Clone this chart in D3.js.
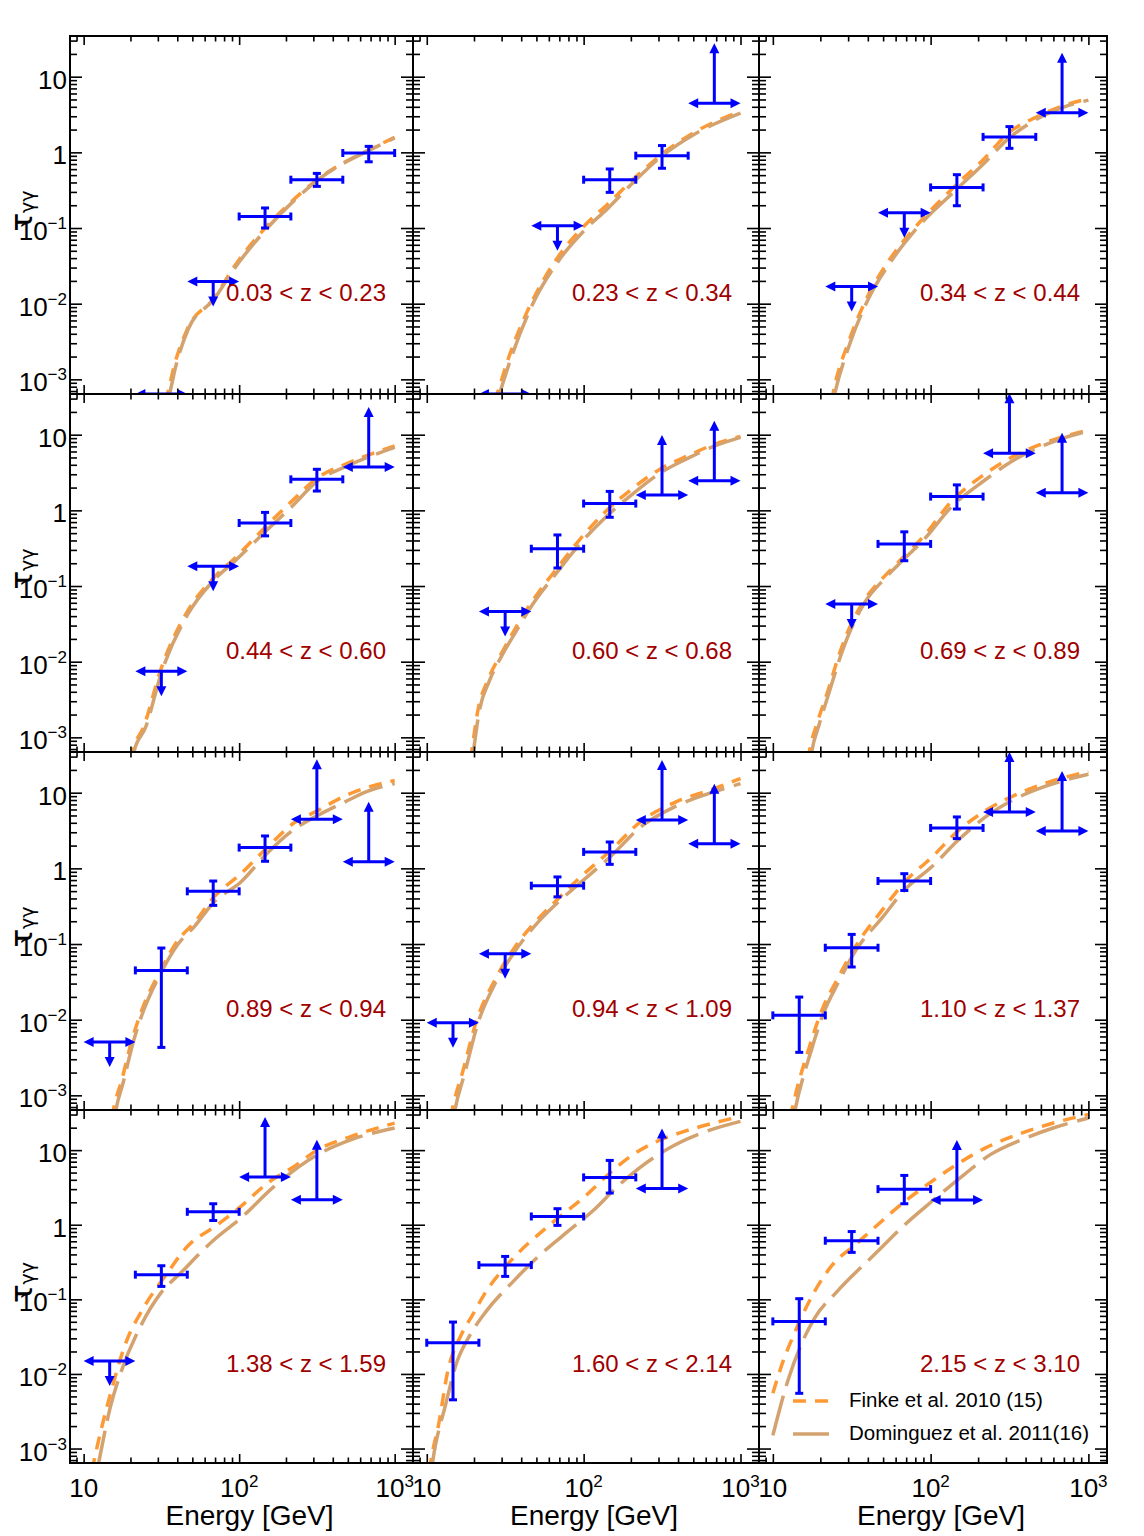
<!DOCTYPE html>
<html>
<head>
<meta charset="utf-8">
<script src="https://cdn.jsdelivr.net/npm/d3@7"></script>
<style>
  body { margin: 0; background: #fff; }
  svg { display: block; font-family: "Liberation Sans", Arial, Helvetica, sans-serif; }
</style>
</head>
<body>
<svg id="chart" width="1144" height="1536"></svg>
<script>
// Redshift bins, one panel each (row by row)
const zLabels = [
  "0.03 < z < 0.23", "0.23 < z < 0.34", "0.34 < z < 0.44",
  "0.44 < z < 0.60", "0.60 < z < 0.68", "0.69 < z < 0.89",
  "0.89 < z < 0.94", "0.94 < z < 1.09", "1.10 < z < 1.37",
  "1.38 < z < 1.59", "1.60 < z < 2.14", "2.15 < z < 3.10"
];

// Energy bins (GeV) and their centers
const binEdges = [10, 21.5, 46.4, 100, 215, 464, 1000];
const binCenters = [14.7, 31.6, 68.1, 146.7, 316, 681];

// Measured optical depth per panel: [bin, type, tau, tauLo, tauHi]
// type: "m" measurement, "ul" upper limit, "ll" lower limit
const tauPoints = [
  [[1, "ul", 6.4e-4], [2, "ul", 0.0197], [3, "m", 0.142, 0.1, 0.184], [4, "m", 0.435, 0.355, 0.527], [5, "m", 0.98, 0.75, 1.2]],
  [[1, "ul", 6.4e-4], [2, "ul", 0.107], [3, "m", 0.435, 0.296, 0.603], [4, "m", 0.904, 0.616, 1.23], [5, "ll", 4.45]],
  [[1, "ul", 0.0169], [2, "ul", 0.159], [3, "m", 0.344, 0.197, 0.507], [4, "m", 1.6, 1.13, 2.19], [5, "ll", 3.35]],
  [[1, "ul", 7.5e-3], [2, "ul", 0.182], [3, "m", 0.68, 0.46, 0.94], [4, "m", 2.57, 1.8, 3.49], [5, "ll", 3.74]],
  [[1, "ul", 0.046], [2, "m", 0.311, 0.173, 0.473], [3, "m", 1.23, 0.81, 1.78], [4, "ll", 1.6], [5, "ll", 2.47]],
  [[1, "ul", 0.058], [2, "m", 0.36, 0.216, 0.52], [3, "m", 1.52, 1.04, 2.17], [4, "ll", 5.68], [5, "ll", 1.71]],
  [[0, "ul", 5.06e-3], [1, "m", 0.0448, 4.3e-3, 0.0885], [2, "m", 0.497, 0.324, 0.68], [3, "m", 1.88, 1.24, 2.68], [4, "ll", 4.45], [5, "ll", 1.22]],
  [[0, "ul", 9.1e-3], [1, "ul", 0.0744], [2, "m", 0.59, 0.42, 0.77], [3, "m", 1.65, 1.13, 2.23], [4, "ll", 4.37], [5, "ll", 2.12]],
  [[0, "m", 0.0114, 3.7e-3, 0.0199], [1, "m", 0.0893, 0.0497, 0.134], [2, "m", 0.68, 0.51, 0.85], [3, "m", 3.42, 2.47, 4.78], [4, "ll", 5.57], [5, "ll", 3.12]],
  [[0, "ul", 0.0149], [1, "m", 0.214, 0.149, 0.282], [2, "m", 1.49, 1.14, 1.91], [3, "ll", 4.36], [4, "ll", 2.16]],
  [[0, "m", 0.0262, 4.5e-3, 0.0496], [1, "m", 0.288, 0.203, 0.376], [2, "m", 1.29, 0.98, 1.64], [3, "m", 4.31, 2.66, 7.28], [4, "ll", 3.07]],
  [[0, "m", 0.0506, 5.5e-3, 0.102], [1, "m", 0.61, 0.426, 0.81], [2, "m", 3.0, 1.91, 4.58], [3, "ll", 2.14]]
];

// Finke et al. 2010 model, [E, tau]
const finkeCurves = [
  [[33, 5e-4], [34.5, 6.3e-4], [38, 1.45e-3], [46.4, 4.6e-3], [69, 0.0118], [93, 0.031], [147, 0.1], [250, 0.29], [320, 0.44], [410, 0.62], [684, 1.08], [1000, 1.58]],
  [[27, 5e-4], [28, 6.3e-4], [34, 2.2e-3], [47.7, 0.0115], [67.3, 0.039], [104.5, 0.115], [140, 0.2], [207, 0.44], [321, 0.97], [499, 1.8], [1000, 3.5]],
  [[23.5, 5e-4], [24, 6.3e-4], [30.5, 3.3e-3], [39.9, 0.0125], [54.8, 0.038], [80.8, 0.105], [145, 0.37], [213, 0.78], [315, 1.84], [464, 2.9], [684, 4.1], [1000, 5.1]],
  [[20, 5e-4], [20.5, 6.3e-4], [24.4, 1.4e-3], [31.3, 7.8e-3], [46.4, 0.046], [69, 0.13], [93, 0.23], [147, 0.6], [216, 1.3], [320, 2.7], [500, 4.2], [1000, 7.1]],
  [[19, 5e-4], [19.3, 6.3e-4], [21.2, 2.3e-3], [24.6, 5.8e-3], [30, 0.013], [36.5, 0.027], [46.6, 0.061], [68.9, 0.18], [92.4, 0.39], [137, 0.95], [202, 1.9], [314, 3.6], [464, 5.3], [686, 7.5], [1000, 9.5]],
  [[16.7, 5e-4], [17, 6.3e-4], [19.2, 1.6e-3], [22.4, 4.2e-3], [26.5, 0.013], [31.5, 0.032], [38.2, 0.066], [51.1, 0.135], [62.2, 0.205], [91.6, 0.47], [135, 1.3], [220, 3.0], [324, 5.0], [479, 7.2], [705, 9.5], [1000, 11.5]],
  [[15.2, 5e-4], [15.5, 6.3e-4], [17.6, 1.6e-3], [20.4, 5.3e-3], [23.2, 0.012], [31.3, 0.045], [40.1, 0.11], [51.3, 0.19], [69, 0.42], [102.6, 0.85], [152, 1.9], [226, 4.0], [320, 5.8], [475, 9.0], [673, 11.8], [1000, 14.5]],
  [[14.2, 5e-4], [14.5, 6.3e-4], [17, 2.1e-3], [20.8, 9.8e-3], [27.3, 0.034], [35.6, 0.085], [52.9, 0.23], [69, 0.4], [89.7, 0.68], [152, 1.8], [226, 4.0], [385, 7.5], [652, 11], [1000, 15.4]],
  [[12.9, 5e-4], [13.2, 6.3e-4], [17, 4.3e-3], [20.8, 0.0145], [25.4, 0.033], [33.3, 0.092], [49.3, 0.28], [68.5, 0.66], [101.6, 1.4], [151, 3.2], [223, 5.8], [332, 9.0], [525, 13.2], [1000, 19]],
  [[11.3, 5e-4], [11.6, 6.5e-4], [14.9, 5.5e-3], [19, 0.0287], [23.2, 0.0655], [34.5, 0.225], [46.4, 0.51], [72.6, 1.0], [102.6, 1.76], [152, 3.6], [226, 6.05], [320, 10.1], [526, 15.3], [1000, 23]],
  [[10.4, 5e-4], [10.6, 6.6e-4], [11.9, 2.1e-3], [13.6, 0.0108], [16.6, 0.0335], [19.6, 0.062], [23.9, 0.128], [31.2, 0.262], [64.6, 1.11], [102, 2.4], [143, 4.68], [198, 8.2], [294, 13.1], [438, 17.8], [743, 24.3], [1000, 28.3]],
  [[10, 5.5e-3], [11.6, 0.0147], [13.3, 0.0303], [15.1, 0.0561], [18.4, 0.128], [23.9, 0.291], [33.3, 0.54], [46.2, 1.0], [68.5, 2.05], [101.6, 3.8], [151, 6.7], [223, 10.7], [354, 16.1], [598, 23.1], [1000, 30]]
];

// Dominguez et al. 2011 model, [E, tau]
const dominguezCurves = [
  [[34, 5e-4], [35.5, 6.3e-4], [39, 1.45e-3], [47, 4.6e-3], [69, 0.0115], [93, 0.029], [147, 0.093], [250, 0.28], [320, 0.43], [410, 0.61], [684, 1.06], [1000, 1.55]],
  [[28, 5e-4], [29, 6.3e-4], [35, 2.1e-3], [48, 0.0105], [68, 0.035], [104.5, 0.1], [140, 0.175], [207, 0.4], [321, 0.92], [499, 1.7], [1000, 3.3]],
  [[24, 5e-4], [24.6, 6.3e-4], [31, 3.1e-3], [40.5, 0.0118], [55.5, 0.035], [81, 0.097], [145, 0.32], [213, 0.68], [315, 1.55], [464, 2.7], [684, 3.9], [1000, 4.9]],
  [[20.5, 5e-4], [21, 6.3e-4], [25, 1.35e-3], [31.8, 7.4e-3], [47, 0.043], [69, 0.12], [93, 0.21], [147, 0.52], [216, 1.1], [320, 2.45], [500, 3.9], [1000, 6.8]],
  [[19.5, 5e-4], [19.8, 6.3e-4], [21.6, 2.2e-3], [25, 5.5e-3], [30.3, 0.0123], [37, 0.025], [47, 0.056], [69, 0.16], [92.4, 0.34], [137, 0.8], [202, 1.6], [314, 3.2], [464, 4.9], [686, 7.1], [1000, 9.2]],
  [[17.3, 5e-4], [17.6, 6.3e-4], [19.7, 1.5e-3], [22.8, 4e-3], [27, 0.0122], [32, 0.03], [38.5, 0.062], [51.5, 0.127], [62.2, 0.19], [91.6, 0.42], [135, 1.1], [220, 2.5], [324, 4.4], [479, 6.7], [705, 9.1], [1000, 11.2]],
  [[15.8, 5e-4], [16.1, 6.3e-4], [18, 1.5e-3], [20.8, 5e-3], [23.5, 0.011], [31.5, 0.042], [40.5, 0.1], [51.5, 0.17], [69, 0.36], [102.6, 0.66], [152, 1.6], [226, 3.3], [320, 5.0], [475, 7.5], [673, 10.5], [1000, 13.2]],
  [[14.8, 5e-4], [15.1, 6.3e-4], [17.5, 2e-3], [21.2, 9e-3], [27.5, 0.031], [36, 0.077], [53, 0.21], [69, 0.36], [89.7, 0.58], [152, 1.5], [226, 3.4], [385, 6.6], [652, 10], [1000, 13.2]],
  [[13.5, 5e-4], [13.8, 6.3e-4], [17.5, 3.9e-3], [21.2, 0.013], [25.8, 0.03], [33.5, 0.082], [49.5, 0.225], [68.5, 0.52], [101.6, 1.05], [151, 2.4], [223, 4.8], [332, 8.0], [525, 12], [1000, 17.5]],
  [[12.2, 5e-4], [12.5, 6.5e-4], [14.9, 3.7e-3], [17.3, 0.0103], [23.2, 0.0434], [31.3, 0.121], [42, 0.225], [69, 0.63], [102.6, 1.23], [168, 3.26], [320, 8.7], [526, 13.8], [1000, 19.8]],
  [[10.7, 5e-4], [10.9, 6.6e-4], [13.2, 3.9e-3], [15.6, 0.0147], [18.4, 0.0303], [23.9, 0.069], [35.6, 0.174], [52.8, 0.396], [78.7, 0.8], [117, 1.6], [163, 3.2], [226, 5.75], [384, 11.8], [652, 18.8], [1000, 24.3]],
  [[10, 1.5e-3], [12.4, 7.9e-3], [15.1, 0.0246], [18.4, 0.0561], [25.6, 0.128], [46.2, 0.44], [68.5, 1.0], [101.6, 2.05], [161, 4.6], [239, 8.7], [378, 13.8], [598, 19.8], [1000, 26.9]]
];

// Axis ticks and labels
const xTickValues = [10, 100, 1000];
const xTickLabels = [["10", ""], ["10", "2"], ["10", "3"]];
const yTickValues = [1e-3, 1e-2, 1e-1, 1, 10];
const yTickLabels = [["10", "\u22123"], ["10", "\u22122"], ["10", "\u22121"], ["1", ""], ["10", ""]];
const legendNames = ["Finke et al. 2010 (15)", "Dominguez et al. 2011(16)"];

// Mise en page
const colX = [70, 413, 759, 1107];
const rowY = [36, 394, 752, 1110, 1463];
const xDomain = [8.17, 1312];
const yDomain = [6.4e-4, 34.5];

const blue = "#0000ff";
const finkeColor = "#ff9933";
const domColor = "#d3a26e";
const labelColor = "#a00000";

const svg = d3.select("#chart");
const defs = svg.append("defs");

const xMinor = [];
[1, 10, 100].forEach(function(dec) {
  for (let m = 1; m <= 9; m++) {
    const v = m * dec;
    if (v > xDomain[0] && v < xDomain[1] && !xTickValues.includes(v)) xMinor.push(v);
  }
});
const yMinor = [];
[1e-4, 1e-3, 1e-2, 1e-1, 1, 10].forEach(function(dec) {
  for (let m = 2; m <= 9; m++) {
    const v = m * dec;
    if (v > yDomain[0] && v < yDomain[1]) yMinor.push(v);
  }
});

// Triangle de fleche: pointe (tx, ty), direction (dx, dy)
function arrowHead(g, tx, ty, dx, dy) {
  const len = 10, half = 5;
  const bx = tx - dx * len, by = ty - dy * len;
  const px = -dy, py = dx;
  g.append("path")
    .attr("d", "M" + tx + "," + ty +
      "L" + (bx + px * half) + "," + (by + py * half) +
      "L" + (bx - px * half) + "," + (by - py * half) + "Z")
    .attr("fill", blue);
}

function seg(g, x1, y1, x2, y2) {
  g.append("line")
    .attr("x1", x1).attr("y1", y1).attr("x2", x2).attr("y2", y2)
    .attr("stroke", blue).attr("stroke-width", 3);
}

function drawPoint(g, p, x, y) {
  const bi = p[0], type = p[1];
  const xl = x(binEdges[bi]), xr = x(binEdges[bi + 1]), xc = x(binCenters[bi]);
  const yc = y(p[2]);
  if (type === "m") {
    seg(g, xl, yc, xr, yc);
    seg(g, xl, yc - 4, xl, yc + 4);
    seg(g, xr, yc - 4, xr, yc + 4);
    const ylo = y(p[3]), yhi = y(p[4]);
    seg(g, xc, ylo, xc, yhi);
    seg(g, xc - 4, ylo, xc + 4, ylo);
    seg(g, xc - 4, yhi, xc + 4, yhi);
  } else {
    seg(g, xl + 6, yc, xr - 6, yc);
    arrowHead(g, xl, yc, -1, 0);
    arrowHead(g, xr, yc, 1, 0);
    if (type === "ul") {
      seg(g, xc, yc, xc, yc + 18);
      arrowHead(g, xc, yc + 25, 0, 1);
    } else {
      seg(g, xc, yc, xc, yc - 53);
      arrowHead(g, xc, yc - 60, 0, -1);
    }
  }
}

zLabels.forEach(function(label, i) {
  const r = Math.floor(i / 3), c = i % 3;
  const x0 = colX[c], x1 = colX[c + 1], y0 = rowY[r], y1 = rowY[r + 1];
  const x = d3.scaleLog().domain(xDomain).range([x0, x1]);
  const y = d3.scaleLog().domain(yDomain).range([y1, y0]);

  const clipId = "clip-" + i;
  defs.append("clipPath").attr("id", clipId)
    .append("rect").attr("x", x0).attr("y", y0).attr("width", x1 - x0).attr("height", y1 - y0);

  const panel = svg.append("g").attr("class", "panel");
  const plot = panel.append("g").attr("clip-path", "url(#" + clipId + ")");

  const line = d3.line()
    .x(function(d) { return x(d[0]); })
    .y(function(d) { return y(d[1]); })
    .curve(d3.curveMonotoneX);

  plot.append("path").datum(finkeCurves[i])
    .attr("d", line).attr("fill", "none")
    .attr("stroke", finkeColor).attr("stroke-width", 3.5)
    .attr("stroke-dasharray", "13,9");
  plot.append("path").datum(dominguezCurves[i])
    .attr("d", line).attr("fill", "none")
    .attr("stroke", domColor).attr("stroke-width", 3.5)
    .attr("stroke-dasharray", "41,10");

  const pts = plot.append("g");
  tauPoints[i].forEach(function(p) { drawPoint(pts, p, x, y); });

  // Ticks on all four sides, pointing inward
  const axes = panel.append("g").attr("class", "ticks");
  function addAxis(axis, tx, ty) {
    const g = axes.append("g").attr("transform", "translate(" + tx + "," + ty + ")").call(axis);
    g.select(".domain").remove();
    g.selectAll("line").attr("stroke", "#000").attr("stroke-width", 1.6);
  }
  addAxis(d3.axisBottom(x).tickValues(xTickValues).tickSize(-9).tickFormat(""), 0, y1);
  addAxis(d3.axisBottom(x).tickValues(xMinor).tickSize(-5.5).tickFormat(""), 0, y1);
  addAxis(d3.axisTop(x).tickValues(xTickValues).tickSize(-9).tickFormat(""), 0, y0);
  addAxis(d3.axisTop(x).tickValues(xMinor).tickSize(-5.5).tickFormat(""), 0, y0);
  addAxis(d3.axisLeft(y).tickValues(yTickValues).tickSize(-12).tickFormat(""), x0, 0);
  addAxis(d3.axisLeft(y).tickValues(yMinor).tickSize(-7).tickFormat(""), x0, 0);
  addAxis(d3.axisRight(y).tickValues(yTickValues).tickSize(-12).tickFormat(""), x1, 0);
  addAxis(d3.axisRight(y).tickValues(yMinor).tickSize(-7).tickFormat(""), x1, 0);

  panel.append("rect")
    .attr("x", x0).attr("y", y0).attr("width", x1 - x0).attr("height", y1 - y0)
    .attr("fill", "none").attr("stroke", "#000").attr("stroke-width", 2);

  // Redshift label
  panel.append("text")
    .attr("x", x1 - 27).attr("y", y(0.0107))
    .attr("text-anchor", "end")
    .attr("font-size", 24).attr("fill", labelColor)
    .text(label);

  if (c === 0) {
    yTickValues.forEach(function(v, k) {
      const t = panel.append("text")
        .attr("x", x0 - 3).attr("y", y(v) + 12)
        .attr("text-anchor", "end").attr("font-size", 26);
      t.append("tspan").text(yTickLabels[k][0]);
      if (yTickLabels[k][1]) {
        t.append("tspan").attr("dy", -11).attr("font-size", 17).text(yTickLabels[k][1]);
      }
    });
    const yl = panel.append("text")
      .attr("transform", "translate(32," + ((y0 + y1) / 2 - 4) + ") rotate(-90)")
      .attr("text-anchor", "middle")
      .attr("font-family", "'DejaVu Sans', sans-serif");
    yl.append("tspan").attr("font-size", 31).text("\u03c4");
    yl.append("tspan").attr("font-size", 19).attr("dy", 2).text("\u03b3\u03b3");
  }

  if (r === 3) {
    xTickValues.forEach(function(v, k) {
      const t = panel.append("text")
        .attr("x", x(v)).attr("y", y1 + 34)
        .attr("text-anchor", "middle").attr("font-size", 26);
      t.append("tspan").text(xTickLabels[k][0]);
      if (xTickLabels[k][1]) {
        t.append("tspan").attr("dy", -10).attr("font-size", 17).text(xTickLabels[k][1]);
      }
    });
    panel.append("text")
      .attr("x", (x0 + x1) / 2 + 8).attr("y", y1 + 62)
      .attr("text-anchor", "middle").attr("font-size", 28)
      .text("Energy [GeV]");
  }

  // Legend in the last panel
  if (i === zLabels.length - 1) {
    const lg = panel.append("g").attr("transform", "translate(" + x0 + "," + y0 + ")");
    const styles = [[finkeColor, "13,9", 291], [domColor, "41,10", 324]];
    styles.forEach(function(s, k) {
      lg.append("line")
        .attr("x1", 34).attr("x2", 70).attr("y1", s[2]).attr("y2", s[2])
        .attr("stroke", s[0]).attr("stroke-width", 3.5).attr("stroke-dasharray", s[1]);
      lg.append("text")
        .attr("x", 90).attr("y", s[2] + 6)
        .attr("font-size", 20.5).attr("fill", "#000")
        .text(legendNames[k]);
    });
  }
});
</script>
</body>
</html>
